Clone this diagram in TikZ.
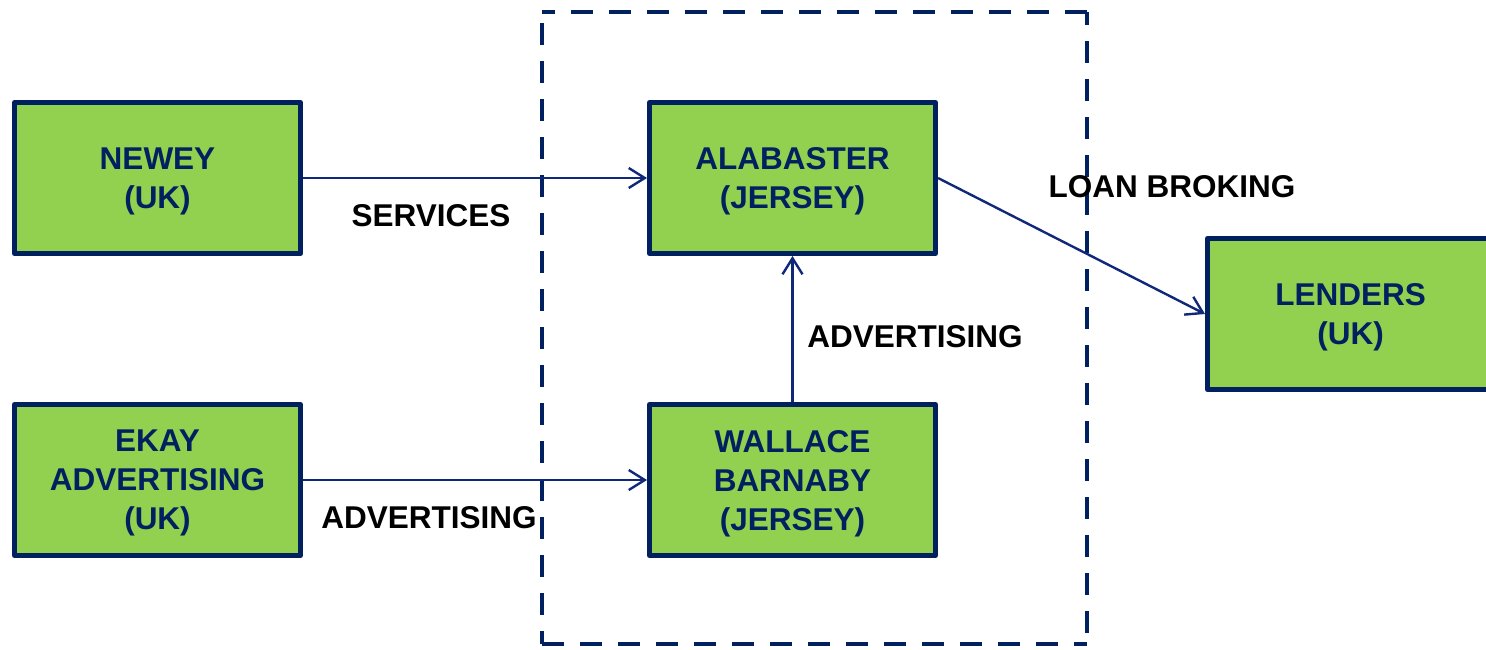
\documentclass[tikz,border=0pt]{standalone}
\usepackage{fontspec}
\setmainfont{Liberation Sans}
\usetikzlibrary{arrows.meta}
\definecolor{navy}{HTML}{002060}
\definecolor{boxgreen}{HTML}{92D050}
\definecolor{arrowblue}{HTML}{10287A}

\begin{document}
\begin{tikzpicture}[x=0.5pt,y=-0.5pt,
  entity/.style={draw=navy, fill=boxgreen, line width=2.5pt, line join=round,
    minimum width=143pt, minimum height=75.5pt, inner sep=0pt, align=center,
    text depth=-4.2pt,
    text=navy, font=\fontsize{15.75}{19.5}\selectfont\bfseries},
  flow/.style={draw=arrowblue, line width=1.2pt,
    -{Straight Barb[length=8pt,width=10pt]}},
  flowlabel/.style={font=\fontsize{15.75}{19.5}\selectfont\bfseries,
    text=black, inner sep=0pt},
  groupline/.style={draw=navy, line width=2.25pt,
    dash pattern=on 11pt off 8pt, dash phase=4.5pt}]
\useasboundingbox (0,0) rectangle (1486,649);

% Jersey group boundary, each side started from a corner
\coordinate (g1) at (542,12);
\coordinate (g2) at (1087,12);
\coordinate (g3) at (1087,644);
\coordinate (g4) at (542,644);
\draw[groupline] (g1) -- (g2);
\draw[groupline] (g2) -- (g3);
\draw[groupline] (g3) -- (g4);
\draw[groupline] (g4) -- (g1);

% Entities
\node[entity] (newey)     at (157.5,178)  {NEWEY\\(UK)};
\node[entity] (ekay)      at (157.5,480)  {EKAY\\ADVERTISING\\(UK)};
\node[entity] (alabaster) at (792.5,178)  {ALABASTER\\(JERSEY)};
\node[entity] (wallace)   at (792.5,480)  {WALLACE\\BARNABY\\(JERSEY)};
\node[entity] (lenders)   at (1350.5,314) {LENDERS\\(UK)};

% Flows
\draw[flow] (newey.east) -- (alabaster.west);
\draw[flow] (ekay.east) -- (wallace.west);
\draw[flow] (wallace.north) -- (alabaster.south);
\draw[flow] (alabaster.east) -- (lenders.west);

% Flow labels
\node[flowlabel] (lservices) at (431,216)  {SERVICES};
\node[flowlabel] (ladvlow)   at (429,518)  {ADVERTISING};
\node[flowlabel] (ladvmid)   at (915,337)  {ADVERTISING};
\node[flowlabel] (lloan)     at (1172,187) {LOAN BROKING};
\end{tikzpicture}
\end{document}
